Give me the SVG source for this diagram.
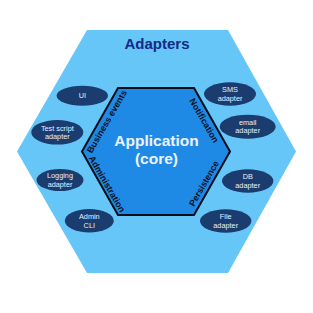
<svg xmlns="http://www.w3.org/2000/svg" width="313" height="313" viewBox="0 0 313 313">
<style>
.t{font-family:"Liberation Sans",Arial,sans-serif}
.ad{fill:#1b3c6e}
.at{font-family:"Liberation Sans",Arial,sans-serif;font-size:7.3px;fill:#e8f0ff;text-anchor:middle}
.side{font-family:"Liberation Sans",Arial,sans-serif;font-size:9px;font-weight:bold;fill:#0a1020;text-anchor:middle;dominant-baseline:central}
</style>
<rect width="313" height="313" fill="#ffffff"/>
<g id="outer">
<polygon points="87,30 228,30 296,151.5 228,273 87,273 17,151.5" fill="#66c6f7"/>
<text class="t" x="157" y="49" font-size="15" font-weight="bold" fill="#142a86" text-anchor="middle">Adapters</text>
</g>
<g id="core">
<polygon points="118,88 194,88 230,151.5 194,215 118,215 82,151.5" fill="#1f8ae6" stroke="#0a0f1a" stroke-width="2"/>
<text class="t" x="156.5" y="145.5" font-size="15.5" font-weight="bold" fill="#eef4ff" text-anchor="middle">Application</text>
<text class="t" x="156.5" y="163.5" font-size="15.5" font-weight="bold" fill="#eef4ff" text-anchor="middle">(core)</text>
<text class="side" transform="translate(107,121.5) rotate(-60)">Business events</text>
<text class="side" transform="translate(107,184) rotate(60)">Administration</text>
<text class="side" transform="translate(204,120.5) rotate(60)">Notification</text>
<text class="side" transform="translate(204,183.5) rotate(-60)">Persistence</text>
</g>
<g id="ui"><ellipse class="ad" cx="82.3" cy="95.7" rx="25.7" ry="10"/><text class="at" x="82.3" y="98.2">UI</text></g>
<g id="testscript"><ellipse class="ad" cx="57.3" cy="132.3" rx="26" ry="12.3"/><text class="at" x="57.3" y="130.5">Test script</text><text class="at" x="57.3" y="139">adapter</text></g>
<g id="logging"><ellipse class="ad" cx="60" cy="180" rx="23.5" ry="11"/><text class="at" x="60" y="178.2">Logging</text><text class="at" x="60" y="186.7">adapter</text></g>
<g id="admincli"><ellipse class="ad" cx="89.3" cy="220.7" rx="24.5" ry="11.7"/><text class="at" x="89.3" y="219">Admin</text><text class="at" x="89.3" y="227.5">CLI</text></g>
<g id="sms"><ellipse class="ad" cx="230" cy="94" rx="26" ry="11.7"/><text class="at" x="230" y="92.2">SMS</text><text class="at" x="230" y="100.7">adapter</text></g>
<g id="email"><ellipse class="ad" cx="247.7" cy="126.7" rx="28" ry="12"/><text class="at" x="247.7" y="124.9">email</text><text class="at" x="247.7" y="133.4">adapter</text></g>
<g id="db"><ellipse class="ad" cx="247.7" cy="181" rx="25.7" ry="11.7"/><text class="at" x="247.7" y="179.2">DB</text><text class="at" x="247.7" y="187.7">adapter</text></g>
<g id="file"><ellipse class="ad" cx="225.7" cy="221" rx="25.7" ry="11.7"/><text class="at" x="225.7" y="219.2">File</text><text class="at" x="225.7" y="227.7">adapter</text></g>
<g id="connectors"></g>
</svg>
